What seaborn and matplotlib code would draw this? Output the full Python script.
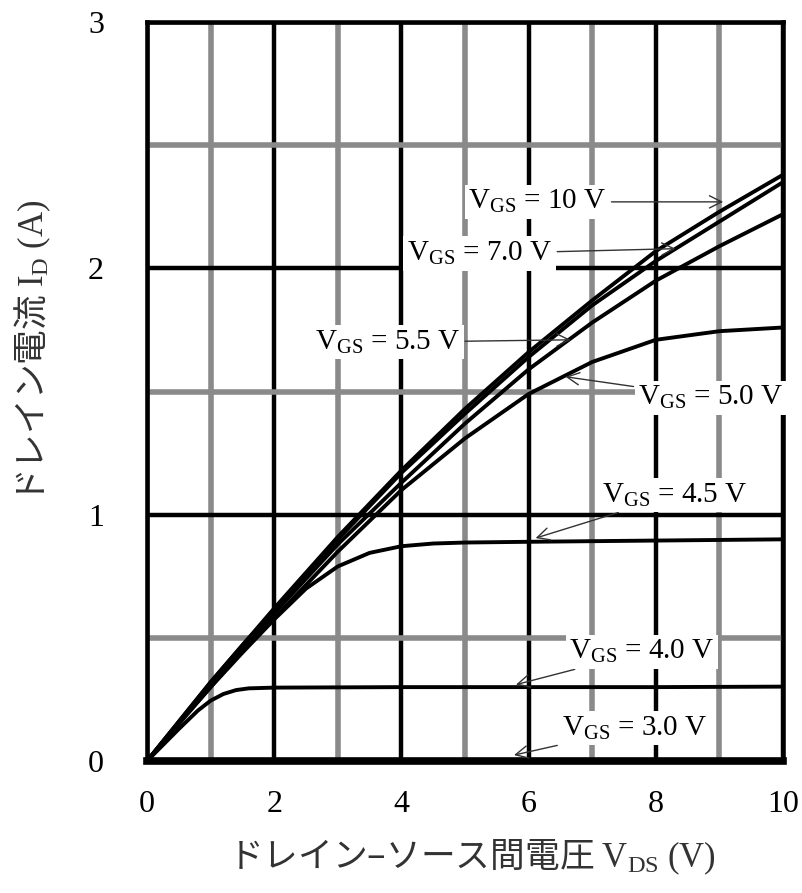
import matplotlib
matplotlib.use('Agg')

import pandas as pd
import matplotlib.pyplot as plt
import seaborn as sns

# --- データ ---
vds_main = [0, 0.5, 1, 1.5, 2, 3, 4, 5, 6, 7, 8, 9, 10]
id_vgs10 = [0, 0.16, 0.32, 0.47, 0.62, 0.91, 1.18, 1.43, 1.66, 1.87, 2.07, 2.23, 2.38]
id_vgs70 = [0, 0.16, 0.32, 0.47, 0.61, 0.90, 1.17, 1.41, 1.64, 1.85, 2.03, 2.19, 2.35]
id_vgs55 = [0, 0.155, 0.31, 0.46, 0.60, 0.88, 1.13, 1.37, 1.59, 1.78, 1.95, 2.09, 2.22]
id_vgs50 = [0, 0.155, 0.30, 0.45, 0.58, 0.85, 1.10, 1.31, 1.49, 1.62, 1.71, 1.745, 1.76]

vds_45 = [0, 0.5, 1, 1.5, 2, 2.5, 3, 3.5, 4, 4.5, 5, 6, 8, 10]
id_vgs45 = [0, 0.15, 0.30, 0.44, 0.575, 0.70, 0.79, 0.845, 0.872, 0.883, 0.887, 0.89, 0.895, 0.90]

vds_40 = [0, 0.5, 0.8, 1, 1.2, 1.4, 1.6, 2, 4, 6, 8, 10]
id_vgs40 = [0, 0.13, 0.205, 0.245, 0.272, 0.288, 0.295, 0.298, 0.30, 0.30, 0.30, 0.302]

vds_30 = [0, 10]
id_vgs30 = [0, 0]

vgs_labels = ['10 V', '7.0 V', '5.5 V', '5.0 V', '4.5 V', '4.0 V', '3.0 V']

x_ticks = [0, 2, 4, 6, 8, 10]
y_ticks = [0, 1, 2, 3]

# --- データフレーム作成 ---
curves = [
    (vds_main, id_vgs10), (vds_main, id_vgs70), (vds_main, id_vgs55), (vds_main, id_vgs50),
    (vds_45, id_vgs45), (vds_40, id_vgs40), (vds_30, id_vgs30),
]
rows = []
for label, (xs, ys) in zip(vgs_labels, curves):
    for xv, yv in zip(xs, ys):
        rows.append({'VDS': xv, 'ID': yv, 'VGS': label})
df = pd.DataFrame(rows)

# --- スタイル ---
sns.set_theme(style='white')
plt.rcParams['font.family'] = ['Liberation Serif', 'Noto Sans CJK JP', 'DejaVu Sans']
plt.rcParams['mathtext.fontset'] = 'custom'
plt.rcParams['mathtext.rm'] = 'Liberation Serif'
plt.rcParams['mathtext.it'] = 'Liberation Serif:italic'

fig = plt.figure(figsize=(8.03, 8.93), dpi=100)
ax = fig.add_axes([0.1831, 0.1478, 0.792, 0.8275])

# グリッド
ax.set_xlim(0, 10)
ax.set_ylim(0, 3)
ax.set_xticks(x_ticks)
ax.set_yticks(y_ticks)
ax.set_xticks([1, 3, 5, 7, 9], minor=True)
ax.set_yticks([0.5, 1.5, 2.5], minor=True)
ax.grid(True, which='major', color='black', linewidth=3.2, zorder=0)
ax.grid(True, which='minor', color='#8a8a8a', linewidth=4.0, zorder=0)
ax.set_axisbelow(True)

sns.lineplot(data=df, x='VDS', y='ID', hue='VGS', units='VGS', estimator=None,
             palette=['black'] * len(vgs_labels), linewidth=2.8, legend=False,
             sort=False, ax=ax, zorder=3)
for line in ax.lines:
    line.set_clip_on(False)

# ラベル注記
notes = [
    ('10 V', (6.14, 2.27), (9.06, 2.27)),
    ('7.0 V', (5.23, 2.06), (8.31, 2.08)),
    ('5.5 V', (3.78, 1.70), (6.66, 1.71)),
    ('5.0 V', (8.87, 1.475), (6.58, 1.56)),
    ('4.5 V', (8.30, 1.08), (6.11, 0.905)),
    ('4.0 V', (7.78, 0.443), (5.80, 0.31)),
    ('3.0 V', (7.67, 0.134), (5.77, 0.024)),
]
for val, txt_pos, tip in notes:
    ax.annotate(r'$\mathrm{V_{GS}}$ = ' + val, xy=tip, xytext=txt_pos,
                ha='center', va='center', fontsize=21, color='black',
                family='Liberation Serif',
                bbox=dict(boxstyle='square,pad=0.12', fc='white', ec='none'),
                arrowprops=dict(arrowstyle='->', color='#333333', lw=1.0,
                                shrinkA=1, shrinkB=0, mutation_scale=22),
                zorder=4)

# 軸
for side in ['top', 'left', 'right']:
    ax.spines[side].set_linewidth(3.3)
    ax.spines[side].set_color('black')
ax.spines['bottom'].set_linewidth(5.5)
ax.spines['bottom'].set_color('black')

ax.tick_params(axis='both', which='both', length=0, labelsize=23, labelcolor='black')
ax.tick_params(axis='x', pad=21)
ax.tick_params(axis='y', pad=31)
for lab in ax.get_xticklabels() + ax.get_yticklabels():
    lab.set_family('Liberation Serif')

ax.set_xlabel(r'ドレイン–ソース間電圧 $\mathrm{V_{DS}\ (V)}$', fontsize=25, color='#333333',
              family=['Noto Sans CJK JP'])
ax.set_ylabel(r'ドレイン電流 $\mathrm{I_D\ (A)}$', fontsize=25, color='#333333',
              family=['Noto Sans CJK JP'])
ax.xaxis.set_label_coords(0.511, -0.103)
ax.yaxis.set_label_coords(-0.148, 0.554)

fig.savefig('out.png', dpi=100)
